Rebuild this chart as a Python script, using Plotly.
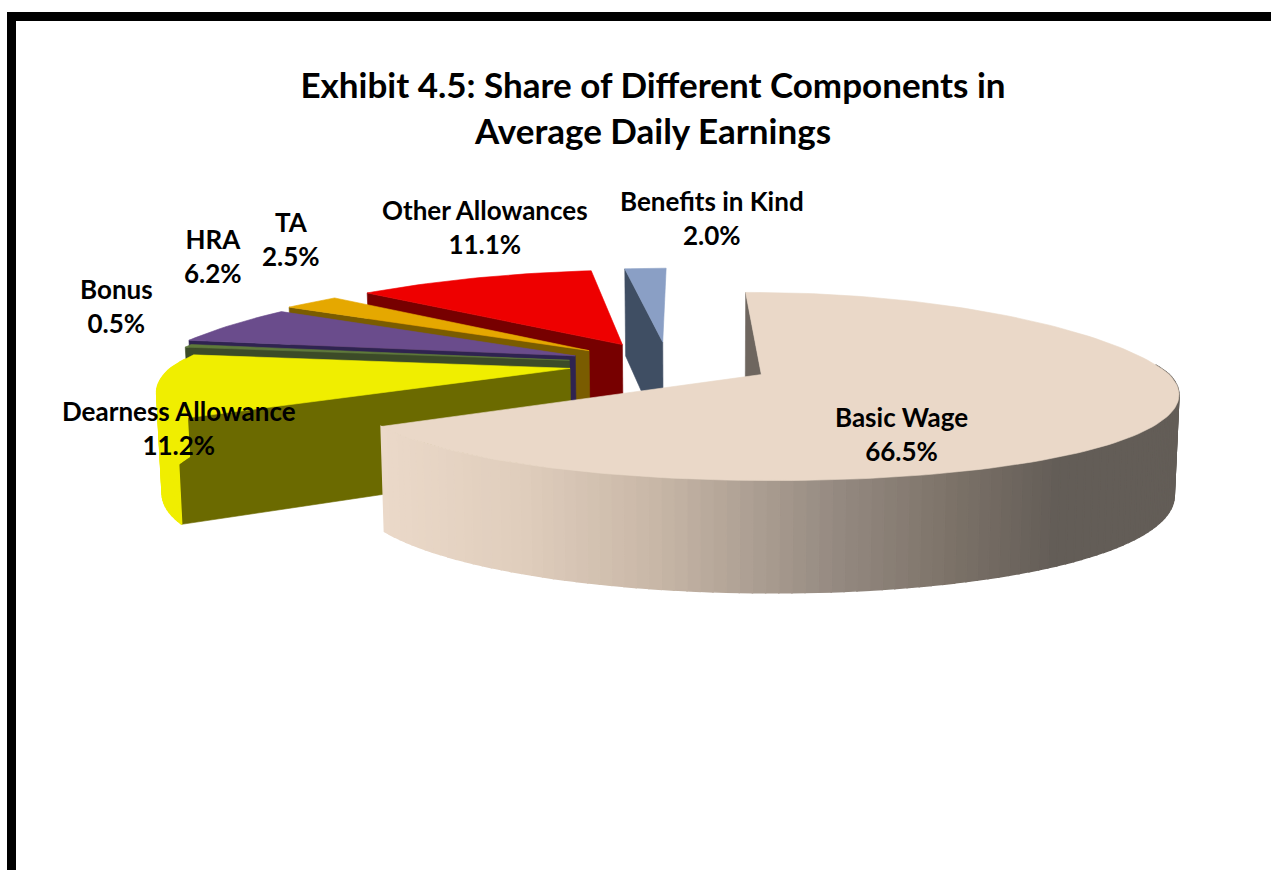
import numpy as np
import plotly.graph_objects as go

TITLE = "Exhibit 4.5: Share of Different Components in<br>Average Daily Earnings"
categories = ["Basic Wage", "Dearness Allowance", "Bonus", "HRA", "TA", "Other Allowances", "Benefits in Kind"]
shares = [66.5, 11.2, 0.5, 6.2, 2.5, 11.1, 2.0]

top_colors = ["#EAD8C8", "#F0EE00", "#5F7A3A", "#6A4C8C", "#E5A800", "#EE0000", "#8A9FC5"]
side_colors = ["#6E665F", "#6B6A00", "#3C4B28", "#2F2350", "#7A5C00", "#770000", "#3F4E63"]
label_pos = [(901, 434), (179, 428), (116, 306), (213, 256), (291, 239), (485, 227), (712, 218)]
radius_x = [1, 0.98, 1, 1.02, 1.035, 1.02, 1]

# projection of the pie (pixel space)
CX, CY, EX, EY = 671, 364, 103, 22
VP, RX, RY, KX_FRONT, KX_BACK, KY, H, ROT = 710, 408, 92.5, 0.19, 0.24, 0.127, 98, -1.0
wall_stops_x = [385, 520, 653, 837, 950, 1060, 1181]
wall_stops = [(0xEB, 0xD9, 0xC9), (0xE0, 0xCE, 0xBD), (0xC9, 0xB8, 0xA8), (0x95, 0x8A, 0x81),
              (0x7D, 0x73, 0x69), (0x63, 0x5D, 0x57), (0x63, 0x5D, 0x57)]


def project(tx, ty, theta, fy=1.0, fx=1.0, r=1.0, depth=0.0):
    X, Y = r * np.sin(theta), -r * np.cos(theta)
    sx = 1 / (1 - np.where(Y > 0, KX_FRONT, KX_BACK) * Y)
    sy = 1 / (1 - KY * Y)
    x = VP + (tx - VP + X * RX * fx) * sx
    y = ty + Y * RY * sy * fy + depth * H * sy
    if depth:
        x = VP + (x - VP) * 0.99
    return x, y


def poly(fig, xs, ys, color, width=0.6):
    fig.add_trace(go.Scatter(x=list(xs), y=list(ys), mode="lines", fill="toself", fillcolor=color,
                             line=dict(color=color, width=width), hoverinfo="skip", showlegend=False))


def wall_color(x):
    return "rgb(%d,%d,%d)" % tuple(np.interp(x, wall_stops_x, [c[i] for c in wall_stops]) for i in range(3))


fig = go.Figure()
edges = np.radians(ROT + np.concatenate([[0], np.cumsum(shares)]) * 3.6)
order = range(len(shares) - 1, -1, -1)
for i in order:
    a0, a1 = edges[i], edges[i + 1]
    mid = (a0 + a1) / 2
    tx, ty = CX + EX * np.sin(mid), CY - EY * np.cos(mid)
    fy = 1 + 0.068 * (-np.cos(mid) - 0.47)
    fx = radius_x[i]
    th = np.linspace(a0, a1, max(8, int(np.degrees(a1 - a0) / 1.5)))
    # start-edge radial wall
    sx0, sy0 = project(tx, ty, a0, fy, fx)
    bx0, by0 = project(tx, ty, a0, fy, fx, depth=1)
    tbx, tby = project(tx, ty, a0, fy, fx, r=0, depth=1)
    poly(fig, [tx, sx0, bx0, tbx, tx], [ty, sy0, by0, tby, ty], side_colors[i])
    # outer wall where it faces the viewer
    vis = th[-np.cos(th) > -0.12]
    for t0, t1 in zip(vis[:-1], vis[1:]):
        p0, p1 = project(tx, ty, t0, fy, fx), project(tx, ty, t1, fy, fx)
        q1, q0 = project(tx, ty, t1, fy, fx, depth=1), project(tx, ty, t0, fy, fx, depth=1)
        col = wall_color((p0[0] + p1[0]) / 2) if i == 0 else top_colors[i]
        poly(fig, [p0[0], p1[0], q1[0], q0[0], p0[0]], [p0[1], p1[1], q1[1], q0[1], p0[1]], col, 1.5)
    # top face
    ax, ay = project(tx, ty, th, fy, fx)
    poly(fig, np.r_[tx, ax, tx], np.r_[ty, ay, ty], top_colors[i])

ann = [dict(x=p[0], y=p[1], xref="x", yref="y", showarrow=False, align="center",
            text=f"<b>{c}</b><br><b>{v:.1f}%</b>", font=dict(family="Lato", size=26, color="#000000"))
       for c, v, p in zip(categories, shares, label_pos)]

fig.update_layout(
    width=1271, height=870, margin=dict(l=0, r=0, t=0, b=0),
    paper_bgcolor="white", plot_bgcolor="white",
    title=dict(text="<b>" + TITLE.replace("<br>", "</b><br><b>") + "</b>", x=653 / 1271, xanchor="center",
               y=1 - 98 / 870, yanchor="middle", font=dict(family="Lato", size=35, color="#000000")),
    xaxis=dict(range=[0, 1271], visible=False, fixedrange=True),
    yaxis=dict(range=[870, 0], visible=False, fixedrange=True),
    annotations=ann,
    shapes=[
        dict(type="rect", xref="x", yref="y", x0=7, x1=16, y0=12, y1=880, fillcolor="black", line_width=0, layer="above"),
        dict(type="rect", xref="x", yref="y", x0=7, x1=1280, y0=12, y1=21, fillcolor="black", line_width=0, layer="above"),
    ],
)
fig.write_html("out.html", config=dict(displayModeBar=False),
               post_script="document.body.style.margin='0';document.documentElement.style.overflow='hidden';")
